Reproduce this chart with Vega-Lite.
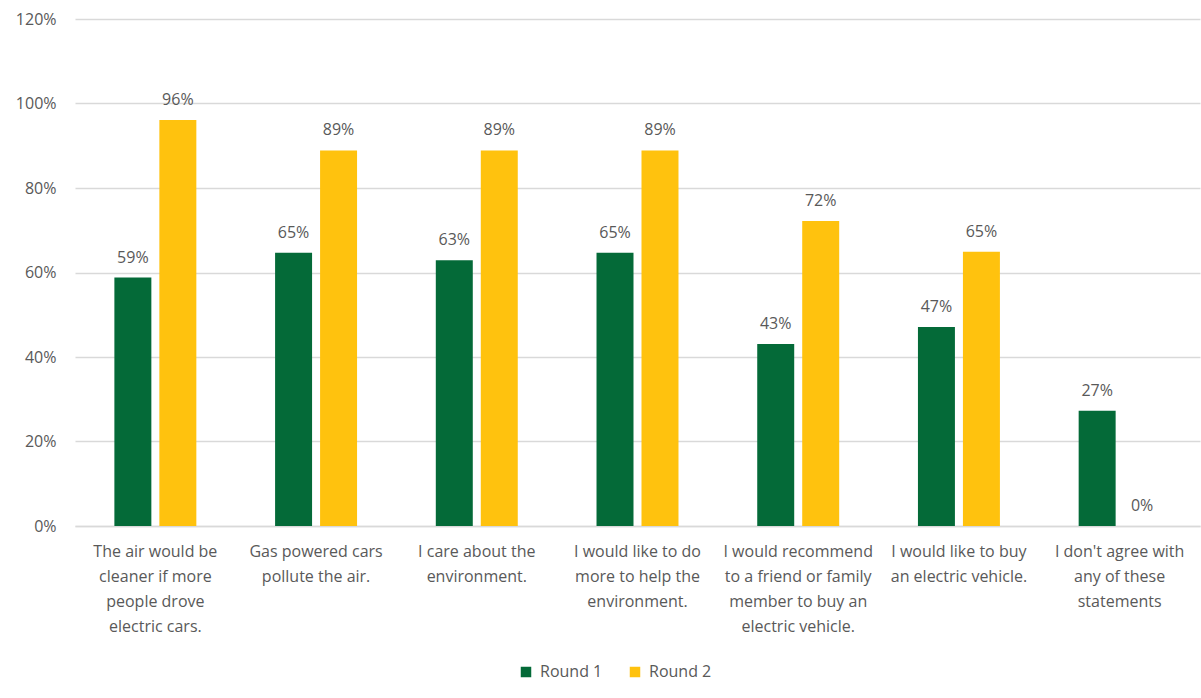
{
  "$schema": "https://vega.github.io/schema/vega-lite/v6.json",
  "width": 1125,
  "height": 507,
  "autosize": {"type": "none"},
  "padding": {"left": 75, "top": 19, "right": 1, "bottom": 172},
  "background": "white",
  "config": {
    "font": "Open Sans",
    "view": {"stroke": null}
  },
  "data": {
    "values": [
      {"statement": "The air would be|cleaner if more|people drove|electric cars.", "round": "Round 1", "value": 0.588},
      {"statement": "The air would be|cleaner if more|people drove|electric cars.", "round": "Round 2", "value": 0.961},
      {"statement": "Gas powered cars|pollute the air.", "round": "Round 1", "value": 0.647},
      {"statement": "Gas powered cars|pollute the air.", "round": "Round 2", "value": 0.889},
      {"statement": "I care about the|environment.", "round": "Round 1", "value": 0.629},
      {"statement": "I care about the|environment.", "round": "Round 2", "value": 0.889},
      {"statement": "I would like to do|more to help the|environment.", "round": "Round 1", "value": 0.647},
      {"statement": "I would like to do|more to help the|environment.", "round": "Round 2", "value": 0.889},
      {"statement": "I would recommend|to a friend or family|member to buy an|electric vehicle.", "round": "Round 1", "value": 0.431},
      {"statement": "I would recommend|to a friend or family|member to buy an|electric vehicle.", "round": "Round 2", "value": 0.722},
      {"statement": "I would like to buy|an electric vehicle.", "round": "Round 1", "value": 0.471},
      {"statement": "I would like to buy|an electric vehicle.", "round": "Round 2", "value": 0.649},
      {"statement": "I don't agree with|any of these|statements", "round": "Round 1", "value": 0.273},
      {"statement": "I don't agree with|any of these|statements", "round": "Round 2", "value": 0.0}
    ]
  },
  "encoding": {
    "x": {
      "field": "statement",
      "type": "nominal",
      "sort": null,
      "scale": {"paddingInner": 0.49, "paddingOuter": 0.245},
      "axis": {
        "title": null,
        "labelAngle": 0,
        "labelExpr": "split(datum.value, '|')",
        "labelFontSize": 16,
        "labelColor": "#595959",
        "labelLineHeight": 25,
        "labelPadding": 17,
        "labelBaseline": "top",
        "ticks": false,
        "domainColor": "#D9D9D9",
        "domainWidth": 1.5
      }
    },
    "xOffset": {
      "field": "round",
      "type": "nominal",
      "scale": {"paddingInner": 0.178, "paddingOuter": 0}
    },
    "y": {
      "field": "value",
      "type": "quantitative",
      "scale": {"domain": [0, 1.2]},
      "axis": {
        "title": null,
        "format": ".0%",
        "values": [0, 0.2, 0.4, 0.6, 0.8, 1.0, 1.2],
        "labelFontSize": 16,
        "labelColor": "#595959",
        "labelPadding": 19,
        "ticks": false,
        "domain": false,
        "gridColor": "#D9D9D9",
        "gridWidth": 1.5
      }
    }
  },
  "layer": [
    {
      "mark": {"type": "bar"},
      "encoding": {
        "color": {
          "field": "round",
          "type": "nominal",
          "scale": {"domain": ["Round 1", "Round 2"], "range": ["#046A38", "#FFC20E"]},
          "legend": {
            "title": null,
            "orient": "none",
            "direction": "horizontal",
            "legendX": 443,
            "legendY": 645,
            "symbolType": "square",
            "symbolSize": 110,
            "symbolStrokeWidth": 0,
            "labelFontSize": 16,
            "labelColor": "#595959",
            "columnPadding": 24,
            "labelOffset": 6
          }
        }
      }
    },
    {
      "mark": {"type": "text", "baseline": "bottom", "dy": -12, "fontSize": 16, "color": "#595959"},
      "encoding": {
        "text": {"field": "value", "type": "quantitative", "format": ".0%"}
      }
    }
  ]
}
